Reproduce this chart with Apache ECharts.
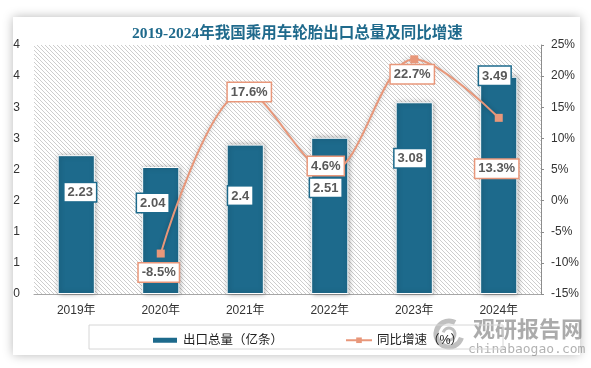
<!DOCTYPE html>
<html>
<head>
<meta charset="utf-8">
<script src="https://cdn.jsdelivr.net/npm/echarts@6/dist/echarts.min.js"></script>
<style>
  html, body { margin: 0; padding: 0; background: #ffffff; }
  #card { position: absolute; left: 13px; top: 17px; width: 567px; height: 338px; background: #fff; box-shadow: 0 0 10px rgba(0,0,0,0.28); }
  #chart { position: absolute; left: 0; top: 0; width: 591px; height: 368px; }
</style>
</head>
<body>
<div id="card"></div>
<div id="chart"></div>
<script>
const categories = ['2019年', '2020年', '2021年', '2022年', '2023年', '2024年'];
const exportTotal = [2.23, 2.04, 2.4, 2.51, 3.08, 3.49];
const yoyGrowth = ['-', -8.5, 17.6, 4.6, 22.7, 13.3];
const seriesNames = ['出口总量（亿条）', '同比增速（%）'];
const titleText = '2019-2024年我国乘用车轮胎出口总量及同比增速';

// label placement (style, not data)
const barLabelOffsets = [[4, 28], [-8, 27], [-5, 42], [-4, 41], [-4, 47], [-4, -10]];
const lineLabelOffsets = [[0, 0], [-2, 19], [4, 1], [-4, -6], [-2, 15], [-2, 51]];

const BLUE = '#1d6a8c';
const ORANGE = '#e8977a';
const FONT = "'Liberation Sans', 'Noto Sans CJK SC', sans-serif";

// hatch pattern
const pc = document.createElement('canvas');
pc.width = 4; pc.height = 4;
const pctx = pc.getContext('2d');
pctx.fillStyle = '#ffffff';
pctx.fillRect(0, 0, 4, 4);
pctx.fillStyle = '#cdcdcd';
for (let i = 0; i < 4; i++) pctx.fillRect(i, i, 1, 1);

const chart = echarts.init(document.getElementById('chart'), null, { renderer: 'canvas' });

const labelBase = {
  show: true,
  color: '#595959',
  fontWeight: 'bold',
  fontSize: 13,
  fontFamily: FONT,
  backgroundColor: '#ffffff',
  borderWidth: 1.5,
  padding: [3, 3, 2, 3]
};

chart.setOption({
  backgroundColor: 'transparent',
  animation: false,
  title: {
    text: titleText,
    left: 127,
    top: 21,
    textStyle: {
      fontFamily: "'Liberation Serif', 'Noto Sans CJK SC', serif",
      fontWeight: 'bold',
      fontSize: 15.5,
      color: '#1f6a8c'
    }
  },
  grid: {
    left: 34, right: 50, top: 45, bottom: 74,
    show: true,
    borderWidth: 0,
    backgroundColor: { image: pc, repeat: 'repeat' }
  },
  legend: {
    left: 146,
    top: 329,
    itemWidth: 26,
    itemHeight: 7,
    itemGap: 62,
    textStyle: { fontSize: 12.5, color: '#222', fontFamily: FONT },
    data: [
      { name: seriesNames[0], icon: 'rect' },
      { name: seriesNames[1] }
    ]
  },
  xAxis: {
    type: 'category',
    data: categories,
    axisLine: { lineStyle: { color: '#a6a6a6', width: 1 } },
    axisTick: { show: false },
    axisLabel: { color: '#333', fontSize: 12, fontFamily: FONT, margin: 11 }
  },
  yAxis: [
    {
      type: 'value',
      min: 0, max: 4, interval: 0.5,
      axisLine: { show: false },
      axisTick: { show: false },
      splitLine: { show: false },
      axisLabel: {
        color: '#333', fontSize: 12, fontFamily: FONT, margin: 14,
        formatter: v => String(Math.round(v))
      }
    },
    {
      type: 'value',
      min: -15, max: 25, interval: 5,
      position: 'right',
      axisLine: { show: true, lineStyle: { color: '#8c8c8c', width: 1 } },
      axisTick: { show: true, length: 3, lineStyle: { color: '#8c8c8c' } },
      splitLine: { show: false },
      axisLabel: {
        color: '#333', fontSize: 12, fontFamily: FONT, margin: 10,
        formatter: v => v + '%'
      }
    }
  ],
  series: [
    {
      name: seriesNames[0],
      type: 'bar',
      barWidth: '44%',
      yAxisIndex: 0,
      itemStyle: {
        color: BLUE,
        borderColor: '#ffffff',
        borderWidth: 1,
        shadowBlur: 5,
        shadowColor: 'rgba(0,0,0,0.35)',
        shadowOffsetX: 1,
        shadowOffsetY: 0
      },
      label: Object.assign({}, labelBase, {
        position: 'insideTop',
        distance: 0,
        borderColor: BLUE
      }),
      data: exportTotal.map((v, i) => ({ value: v, label: { offset: barLabelOffsets[i] } })),
      z: 2
    },
    {
      name: seriesNames[1],
      type: 'line',
      yAxisIndex: 1,
      smooth: 0.35,
      symbol: 'rect',
      symbolSize: 8,
      lineStyle: { color: ORANGE, width: 2, shadowBlur: 4, shadowColor: 'rgba(0,0,0,0.25)' },
      itemStyle: { color: ORANGE },
      label: Object.assign({}, labelBase, {
        position: 'inside',
        borderColor: ORANGE,
        formatter: p => p.value + '%'
      }),
      data: yoyGrowth.map((v, i) => ({ value: v, label: { offset: lineLabelOffsets[i] } })),
      z: 3
    }
  ],
  graphic: [
    {
      type: 'rect',
      shape: { x: 89, y: 325, width: 414, height: 24 },
      style: { fill: 'none', stroke: '#d6d6d6', lineWidth: 1 },
      z: 1
    },
    {
      type: 'group',
      z: 50,
      children: [
        {
          type: 'arc',
          shape: { cx: 449, cy: 334, r: 13, startAngle: 0.3, endAngle: 5.2 },
          style: { stroke: 'rgba(140,140,140,0.55)', lineWidth: 5, fill: 'none' }
        },
        {
          type: 'arc',
          shape: { cx: 449, cy: 334, r: 6, startAngle: 3.4, endAngle: 8.3 },
          style: { stroke: 'rgba(140,140,140,0.55)', lineWidth: 3, fill: 'none' }
        },
        {
          type: 'text',
          style: {
            x: 473, y: 318, text: '观研报告网',
            fill: 'rgba(120,120,120,0.62)',
            font: "bold 22px 'Noto Sans CJK SC', sans-serif"
          }
        },
        {
          type: 'text',
          style: {
            x: 468, y: 343, text: 'chinabaogao.com',
            fill: 'rgba(130,130,130,0.62)',
            font: "13px 'DejaVu Sans Mono', monospace"
          }
        }
      ]
    }
  ]
});
</script>
</body>
</html>
